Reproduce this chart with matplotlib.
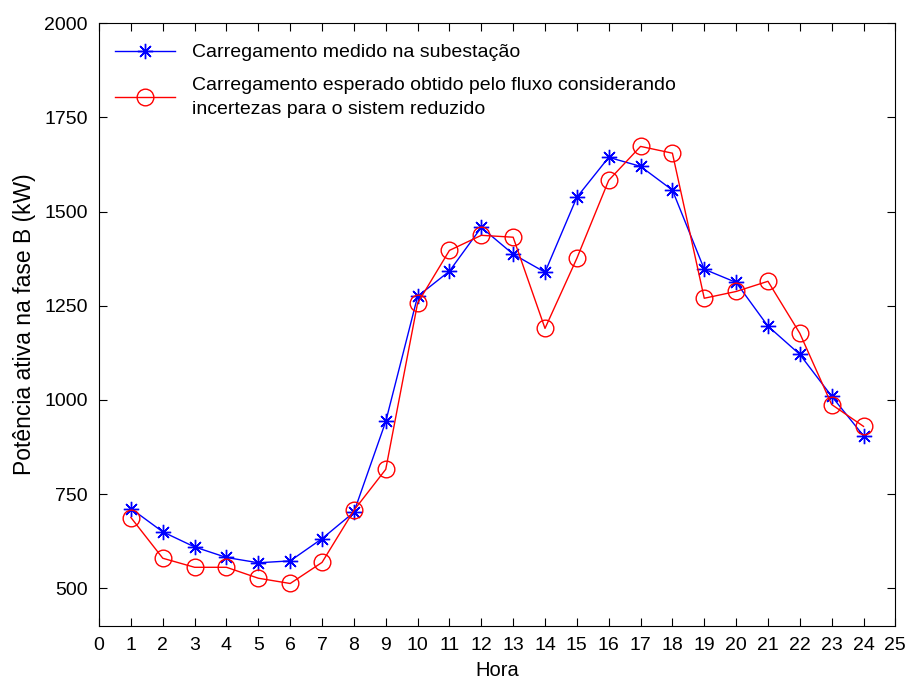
import matplotlib
matplotlib.use("Agg")
import matplotlib.pyplot as plt

# hourly load on phase B (kW)
horas = list(range(1, 25))
medido = [712, 650, 610, 582, 568, 573, 632, 702, 943, 1275, 1342, 1458,
          1387, 1339, 1538, 1644, 1620, 1557, 1347, 1312, 1196, 1121, 1010, 905]
esperado = [688, 580, 556, 556, 527, 513, 569, 707, 816, 1257, 1397, 1437,
            1432, 1190, 1376, 1583, 1673, 1655, 1270, 1288, 1315, 1177, 988, 930]

plt.rcParams['font.family'] = ['Liberation Sans', 'DejaVu Sans']

fig = plt.figure(figsize=(9.09, 6.82), dpi=100)
ax = fig.add_axes([0.109, 0.082, 0.876, 0.884])

# MATLAB-style asterisk marker (8 spokes)
ax.plot(horas, medido, color='blue', marker=(8, 2, 0), markersize=11, linewidth=1,
        markeredgewidth=1, label='Carregamento medido na subestação')
ax.plot(horas, esperado, color='red', marker='o', markersize=12, linewidth=1,
        markerfacecolor='none', markeredgewidth=1,
        label='Carregamento esperado obtido pelo fluxo considerando\nincertezas para o sistem reduzido')

ax.set_xlim(0, 25)
ax.set_ylim(400, 2000)
ax.set_xticks(range(0, 26))
ax.set_yticks(range(500, 2001, 250))
ax.tick_params(direction='in', top=True, right=True, labelsize=14, length=6, pad=8)
ax.set_xlabel('Hora', fontsize=14.5, labelpad=5)
ax.set_ylabel('Potência ativa na fase B (kW)', fontsize=16.5, labelpad=6)

leg = ax.legend(loc='upper left', bbox_to_anchor=(-0.005, 0.998), fontsize=14,
                frameon=False, handlelength=3.1, handletextpad=0.9,
                labelspacing=0.8, borderaxespad=0.5, borderpad=0.5)
for t in leg.get_texts():
    t.set_linespacing(1.5)

fig.savefig('out.png', dpi=100)
